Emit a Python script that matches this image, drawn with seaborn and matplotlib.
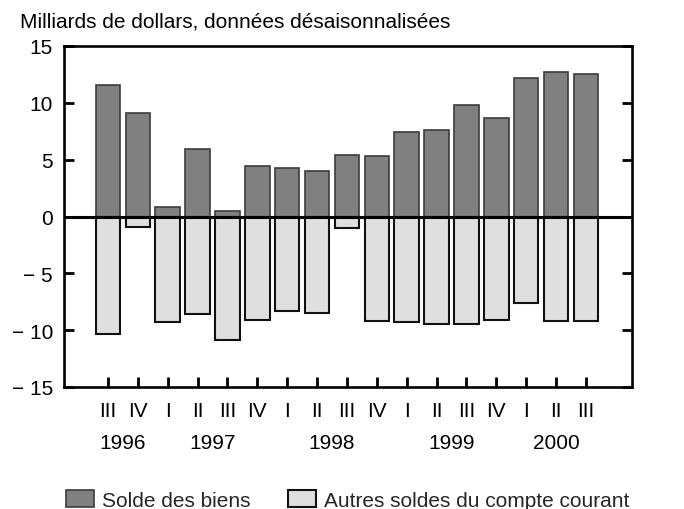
import matplotlib
matplotlib.use("Agg")
import matplotlib.pyplot as plt
import matplotlib.transforms as mtransforms
from matplotlib.patches import Patch
import seaborn as sns
import pandas as pd

# ---- data ----
quarters = ["III", "IV", "I", "II", "III", "IV", "I", "II", "III", "IV",
            "I", "II", "III", "IV", "I", "II", "III"]
solde_biens = [11.6, 9.1, 0.85, 5.9, 0.5, 4.45, 4.25, 4.0, 5.4, 5.35,
               7.45, 7.65, 9.85, 8.7, 12.15, 12.75, 12.5]
autres_soldes = [-10.35, -0.9, -9.3, -8.55, -10.85, -9.1, -8.35, -8.45, -1.0, -9.15,
                 -9.25, -9.45, -9.45, -9.1, -7.65, -9.2, -9.2]
years = ["1996", "1997", "1998", "1999", "2000"]
y_ticks = [15, 10, 5, 0, -5, -10, -15]
y_tick_labels = ["15", "10", "5", "0", "\u2212 5", "\u2212 10", "\u2212 15"]
series_names = ["Solde des biens", "Autres soldes du compte courant"]
title = "Milliards de dollars, données désaisonnalisées"

# ---- layout (not data) ----
year_positions = [0.5, 3.5, 7.5, 11.5, 15.0]

sns.set_theme(style="white")
plt.rcParams["font.family"] = ["Liberation Sans", "DejaVu Sans"]
FS = 15

W, H = 684, 510
fig = plt.figure(figsize=(W / 100, H / 100), dpi=100)
ax = fig.add_axes([64 / W, 1 - 388 / H, (632 - 64) / W, (388 - 47) / H])

idx = list(range(len(quarters)))
df = pd.DataFrame({"pos": idx, "biens": solde_biens, "autres": autres_soldes})

dark_fill, dark_edge = "#808080", "#3c3c3c"
light_fill, light_edge = "#dfdfdf", "#111111"

sns.barplot(data=df, x="pos", y="biens", color=dark_fill, saturation=1,
            edgecolor=dark_edge, linewidth=1.2, width=0.82, ax=ax, native_scale=True)
sns.barplot(data=df, x="pos", y="autres", color=light_fill, saturation=1,
            edgecolor=light_edge, linewidth=1.5, width=0.82, ax=ax, native_scale=True)

ax.axhline(0, color="black", lw=2.2, zorder=5)

ax.set_xlim(-1.47, 17.54)
ax.set_ylim(-15, 15)
ax.set_xlabel("")
ax.set_ylabel("")

ax.set_xticks(idx)
ax.set_xticklabels(quarters, fontsize=FS)
ax.set_yticks(y_ticks)
ax.set_yticklabels(y_tick_labels, fontsize=FS)

ax.tick_params(axis="x", direction="in", length=7, width=2, pad=10, colors="black",
               labelcolor="black", bottom=True, top=False)
ax.tick_params(axis="y", direction="in", length=7, width=2, pad=8, colors="black",
               labelcolor="black", left=True, right=True)

for sp in ax.spines.values():
    sp.set_visible(True)
    sp.set_color("black")
    sp.set_linewidth(1.9)

trans = mtransforms.blended_transform_factory(ax.transData, ax.transAxes)
for yr, xp in zip(years, year_positions):
    ax.text(xp, -0.163, yr, transform=trans, ha="center", va="center", fontsize=FS,
            color="black")

fig.text(20 / W, 1 - 28 / H, title, ha="left", va="baseline", fontsize=FS, color="black")

handles = [Patch(facecolor=dark_fill, edgecolor=dark_edge, linewidth=1.2),
           Patch(facecolor=light_fill, edgecolor=light_edge, linewidth=1.5)]
fig.legend(handles, series_names, loc="center left",
           bbox_to_anchor=(66 / W, 1 - 501 / H), ncol=2, frameon=False,
           fontsize=FS, handlelength=1.35, handleheight=0.9,
           handletextpad=0.4, columnspacing=1.76, borderpad=0, borderaxespad=0)

fig.savefig("out.png", dpi=100)
